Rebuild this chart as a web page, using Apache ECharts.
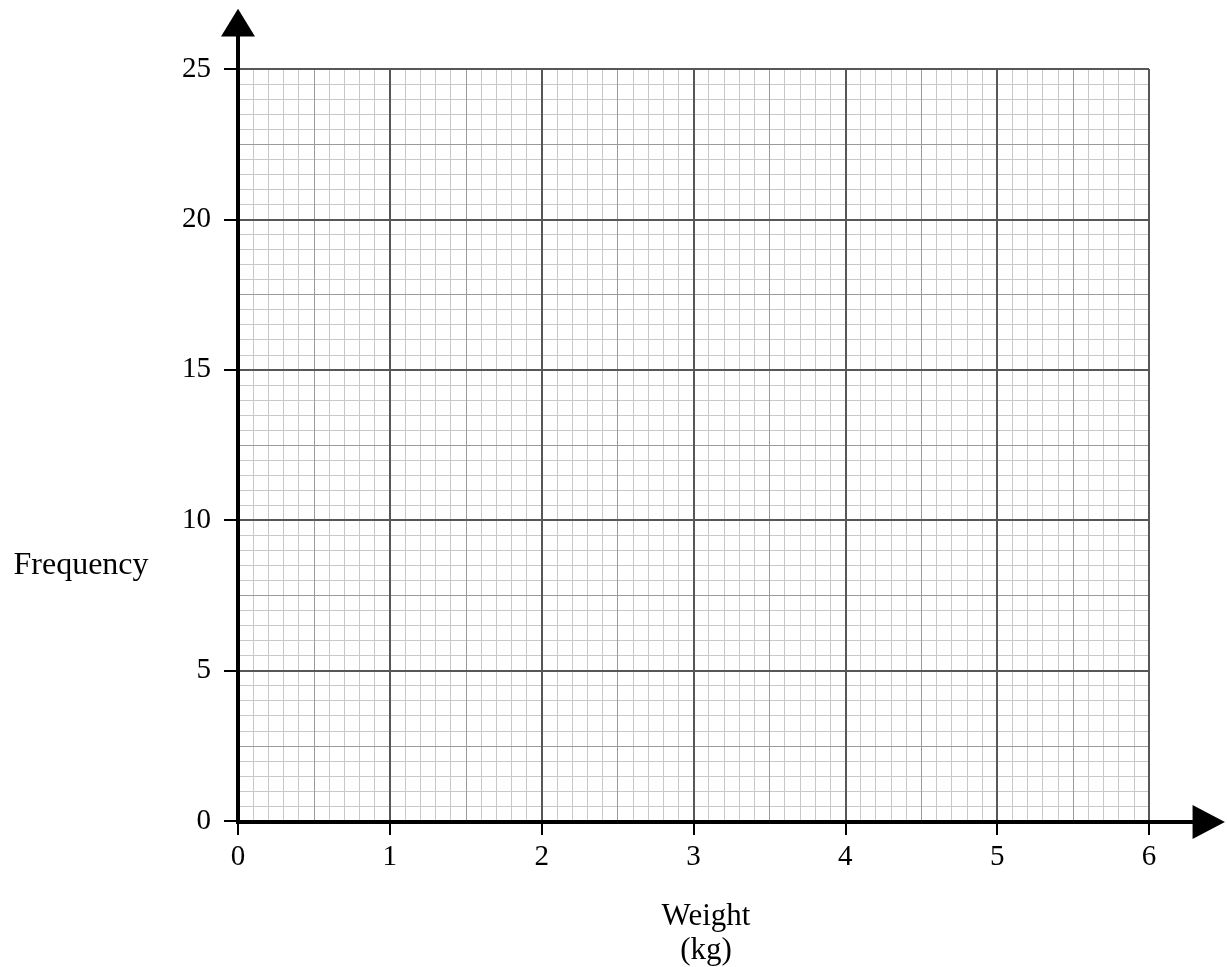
<!DOCTYPE html>
<html>
<head>
<meta charset="utf-8">
<script src="https://cdn.jsdelivr.net/npm/echarts@6/dist/echarts.min.js"></script>
<style>html,body{margin:0;padding:0;background:#fff}#c{width:1227px;height:967px}</style>
</head>
<body>
<div id="c"></div>
<script>
const xMin = 0, xMax = 6;
const yMin = 0, yMax = 25;
const xMajor = 1, xMedium = 0.5, xMinor = 0.1;
const yMajor = 5, yMedium = 2.5, yMinor = 0.5;
const xAxisName = 'Weight\n(kg)';
const yAxisName = 'Frequency';
const xAxisEnd = 6.3, xArrowTip = 6.5;
const yAxisEnd = 26.15, yArrowTip = 27.0;

const FONT = '"Liberation Serif", "Times New Roman", serif';

function gridAxis(min, max, interval, color, width, z, withLabels, isX) {
  return {
    type: 'value', gridIndex: 0, min: min, max: max, interval: interval, z: z,
    position: isX ? 'bottom' : 'left', offset: 0,
    axisLine: { show: false },
    axisTick: withLabels ? { show: true, length: 14, lineStyle: { color: '#000', width: 2 } } : { show: false },
    axisLabel: withLabels ? { show: true, fontFamily: FONT, fontSize: 29, color: '#000', margin: isX ? 22 : 27 } : { show: false },
    splitLine: { show: true, lineStyle: { color: color, width: width } }
  };
}

const chart = echarts.init(document.getElementById('c'), null, { renderer: 'canvas' });
chart.setOption({
  animation: false,
  backgroundColor: '#fff',
  grid: { left: 238, top: 69, width: 911, height: 752, containLabel: false },
  xAxis: [
    gridAxis(xMin, xMax, xMinor, '#c8c8c8', 1, 1, false, true),
    gridAxis(xMin, xMax, xMedium, '#9a9a9a', 1, 2, false, true),
    gridAxis(xMin, xMax, xMajor, '#575757', 2, 3, true, true)
  ],
  yAxis: [
    gridAxis(yMin, yMax, yMinor, '#c8c8c8', 1, 1, false, false),
    gridAxis(yMin, yMax, yMedium, '#9a9a9a', 1, 2, false, false),
    gridAxis(yMin, yMax, yMajor, '#575757', 2, 3, true, false)
  ],
  series: []
});

const P = (v) => chart.convertToPixel({ xAxisIndex: 2, yAxisIndex: 2 }, v);
const origin = P([xMin, yMin]);
const xBase = P([xAxisEnd, yMin]), xTip = P([xArrowTip, yMin]);
const yBase = P([xMin, yAxisEnd]), yTip = P([xMin, yArrowTip]);
const half = 17;
chart.setOption({
  graphic: [
    { type: 'line', z: 20, shape: { x1: origin[0] - 2, y1: origin[1] + 1, x2: xBase[0], y2: xBase[1] + 1 }, style: { stroke: '#000', lineWidth: 4 } },
    { type: 'line', z: 20, shape: { x1: origin[0], y1: origin[1] + 3, x2: yBase[0], y2: yBase[1] }, style: { stroke: '#000', lineWidth: 4 } },
    { type: 'polygon', z: 20, shape: { points: [[xBase[0] - 2, xBase[1] + 1 - half], [xTip[0], xTip[1] + 1], [xBase[0] - 2, xBase[1] + 1 + half]] }, style: { fill: '#000' } },
    { type: 'polygon', z: 20, shape: { points: [[yBase[0] - half, yBase[1] + 2], [yTip[0], yTip[1]], [yBase[0] + half, yBase[1] + 2]] }, style: { fill: '#000' } },
    { type: 'text', z: 20, style: { x: 81, y: 566, text: yAxisName, font: '32px ' + FONT, fill: '#000', align: 'center', verticalAlign: 'middle' } },
    { type: 'text', z: 20, style: { x: 706, y: 900, text: xAxisName, font: '31px ' + FONT, fill: '#000', align: 'center', verticalAlign: 'top', lineHeight: 34 } }
  ]
});
</script>
</body>
</html>
